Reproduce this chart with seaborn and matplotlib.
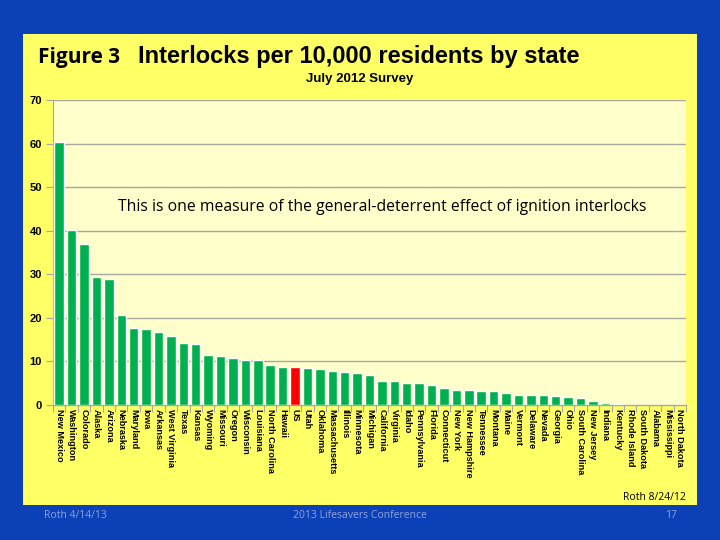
import matplotlib
matplotlib.use("Agg")
import matplotlib.pyplot as plt
import seaborn as sns
import pandas as pd
from matplotlib.patches import Rectangle
from matplotlib.ticker import FixedLocator

states = ["New Mexico", "Washington", "Colorado", "Alaska", "Arizona", "Nebraska",
          "Maryland", "Iowa", "Arkansas", "West Virginia", "Texas", "Kansas",
          "Wyoming", "Missouri", "Oregon", "Wisconsin", "Louisiana", "North Carolina",
          "Hawaii", "US", "Utah", "Oklahoma", "Massachusetts", "Illinois", "Minnesota",
          "Michigan", "California", "Virginia", "Idaho", "Pennsylvania", "Florida",
          "Connecticut", "New York", "New Hampshire", "Tennessee", "Montana", "Maine",
          "Vermont", "Delaware", "Nevada", "Georgia", "Ohio", "South Carolina",
          "New Jersey", "Indiana", "Kentucky", "Rhode Island", "South Dakota",
          "Alabama", "Mississippi", "North Dakota"]
values = [60.4, 40.2, 37.0, 29.4, 28.9, 20.6,
          17.6, 17.4, 16.8, 15.8, 14.2, 14.0,
          11.5, 11.2, 10.8, 10.3, 10.3, 9.2,
          8.7, 8.7, 8.5, 8.3, 7.8, 7.6, 7.4,
          6.9, 5.5, 5.4, 5.0, 5.0, 4.5,
          3.9, 3.4, 3.4, 3.2, 3.1, 2.75,
          2.3, 2.3, 2.3, 2.1, 1.8, 1.6,
          0.85, 0.5, 0.25, 0.1, 0.0,
          0.0, 0.0, 0.0]
y_ticks = [0, 10, 20, 30, 40, 50, 60, 70]

title_left = "Figure 3"
title_main = "Interlocks per 10,000 residents by state"
subtitle = "July 2012 Survey"
note = "This is one measure of the general-deterrent effect of ignition interlocks"
credit = "Roth 8/24/12"
footer_left = "Roth 4/14/13"
footer_mid = "2013 Lifesavers Conference"
footer_right = "17"

GREEN = "#00B050"
RED = "#FF0000"
BLUE_BG = "#0B40B6"
PANEL = "#FFFF66"
PLOT_BG = "#FFFFCC"
GRID = "#A8A8A0"
FOOT = "#8FA3DA"

sns.set_theme(style="white")
plt.rcParams["font.family"] = ["Liberation Sans", "DejaVu Sans"]
plt.rcParams["text.color"] = "black"
plt.rcParams["xtick.color"] = "black"
plt.rcParams["ytick.color"] = "black"

W, H = 720, 540
fig = plt.figure(figsize=(7.2, 5.4), dpi=100, facecolor=BLUE_BG)

def fx(px):
    return px / W

def fy(py):
    return 1 - py / H

# yellow panel
panel = Rectangle((fx(23), fy(505)), fx(697) - fx(23), fy(34) - fy(505),
                  transform=fig.transFigure, facecolor=PANEL,
                  edgecolor="none", zorder=-10)
fig.patches.append(panel)

ax = fig.add_axes([fx(53), fy(405), fx(686) - fx(53), fy(100) - fy(405)])
ax.set_zorder(2)
ax.set_facecolor(PLOT_BG)

df = pd.DataFrame({"state": states, "value": values})
palette = {s: (RED if s == "US" else GREEN) for s in states}
sns.barplot(data=df, x="state", y="value", hue="state", palette=palette,
            order=states, hue_order=states, legend=False, width=0.76,
            saturation=1, ax=ax, zorder=3)

ax.set_ylim(0, 70)
ax.set_xlim(-0.5, len(states) - 0.5)
ax.set_yticks(y_ticks)
ax.set_yticklabels([str(t) for t in y_ticks], fontsize=8, fontweight="bold")
ax.set_xlabel("")
ax.set_ylabel("")
for t in y_ticks[1:]:
    ax.axhline(t, color=GRID, lw=1.0, zorder=1)

ax.set_xticks(range(len(states)))
ax.set_xticklabels(states, rotation=270, fontsize=6.6, fontweight="bold",
                   ha="center", va="top")
ax.xaxis.set_minor_locator(FixedLocator([i + 0.5 for i in range(-1, len(states))]))
ax.tick_params(axis="x", which="major", length=0, pad=3)
ax.tick_params(axis="x", which="minor", length=5, color=GRID, width=0.8, bottom=True)
ax.tick_params(axis="y", which="major", length=5, color=GRID, width=0.8, left=True, pad=3)

for side in ["top", "right"]:
    ax.spines[side].set_visible(False)
ax.spines["left"].set_color(GRID)
ax.spines["left"].set_linewidth(0.8)
ax.spines["bottom"].set_color(GRID)
ax.spines["bottom"].set_linewidth(1.0)

# titles
fig.text(fx(38), fy(57), title_left, fontsize=15, fontweight="bold",
         family=["Open Sans", "DejaVu Sans"], ha="left", va="center")
fig.text(fx(359), fy(57), title_main, fontsize=17, fontweight="bold",
         family=["Liberation Sans Narrow", "Liberation Sans", "DejaVu Sans"],
         ha="center", va="center")
fig.text(fx(360), fy(79), subtitle, fontsize=9.5, fontweight="bold",
         ha="center", va="center")
ax.text(0.52, 0.65, note, transform=ax.transAxes, fontsize=11.3,
        family=["Open Sans", "DejaVu Sans"], ha="center", va="center", zorder=5)

fig.text(fx(686), fy(497), credit, fontsize=7.5,
         family=["Open Sans", "DejaVu Sans"], ha="right", va="center")

fig.text(fx(44), fy(515), footer_left, fontsize=7.5, color=FOOT,
         family=["Open Sans", "DejaVu Sans"], ha="left", va="center")
fig.text(fx(360), fy(515), footer_mid, fontsize=7.5, color=FOOT,
         family=["Open Sans", "DejaVu Sans"], ha="center", va="center")
fig.text(fx(671), fy(515), footer_right, fontsize=7.5, color=FOOT,
         family=["Open Sans", "DejaVu Sans"], ha="center", va="center")

fig.savefig("out.png", dpi=100, facecolor=BLUE_BG)
